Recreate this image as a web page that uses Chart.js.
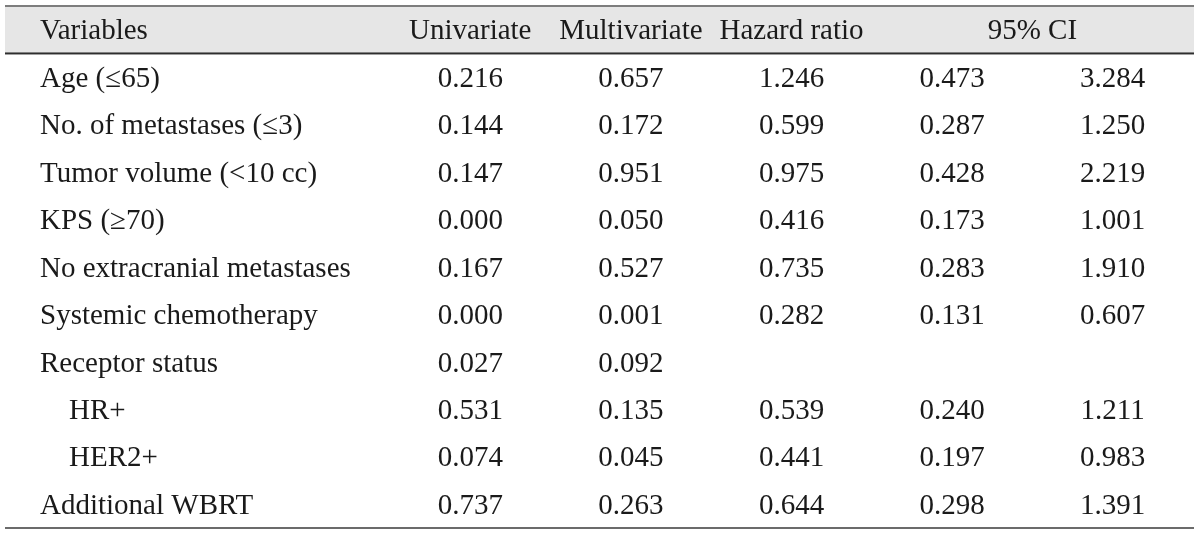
<!DOCTYPE html>
<html>
<head>
<meta charset="utf-8">
<script src="https://cdn.jsdelivr.net/npm/chart.js@4/dist/chart.umd.min.js"></script>
<style>
    html, body { margin: 0; padding: 0; background: #ffffff; }
    #wrap { width: 1200px; height: 535px; position: relative; }
</style>
</head>
<body>
<div id="wrap"><canvas id="coxTable"></canvas></div>
<script>
// table content
const headerLabel = "Variables";
const variables = [
    "Age (\u226465)",
    "No. of metastases (\u22643)",
    "Tumor volume (<10 cc)",
    "KPS (\u226570)",
    "No extracranial metastases",
    "Systemic chemotherapy",
    "Receptor status",
    "\u2003HR+",
    "\u2003HER2+",
    "Additional WBRT",
];
const columns = ["Univariate", "Multivariate", "Hazard ratio", "CI lower", "CI upper"];
const columnHeaders = ["Univariate", "Multivariate", "Hazard ratio"];
const ciHeader = "95% CI";

const univariate   = [0.216, 0.144, 0.147, 0.000, 0.167, 0.000, 0.027, 0.531, 0.074, 0.737];
const multivariate = [0.657, 0.172, 0.951, 0.050, 0.527, 0.001, 0.092, 0.135, 0.045, 0.263];
const hazardRatio  = [1.246, 0.599, 0.975, 0.416, 0.735, 0.282, null, 0.539, 0.441, 0.644];
const ciLower      = [0.473, 0.287, 0.428, 0.173, 0.283, 0.131, null, 0.240, 0.197, 0.298];
const ciUpper      = [3.284, 1.250, 2.219, 1.001, 1.910, 0.607, null, 1.211, 0.983, 1.391];

const seriesValues = [univariate, multivariate, hazardRatio, ciLower, ciUpper];

const FONT = { family: "'Liberation Serif', 'DejaVu Serif', serif", size: 29 };
const TEXT_COLOR = "#1a1a1a";
const EDGE = 5;
// text sits a little below the middle of each band in the original
const TEXT_DROP = 2;

const datasets = columns.map((col, c) => ({
    label: col,
    data: variables.map((v, r) => ({ x: col, y: v, value: seriesValues[c][r] })),
    pointRadius: 0,
}));

const tablePlugin = {
    id: "tablePlugin",
    beforeDraw(chart) {
        const ctx = chart.ctx;
        const area = chart.chartArea;
        const y = chart.scales.y;
        const rowHeight = y.getPixelForValue(variables[0]) - y.getPixelForValue(headerLabel);
        const left = EDGE;
        const right = chart.width - EDGE - 1;
        const top = area.top - TEXT_DROP;
        const bottom = area.bottom - TEXT_DROP;
        ctx.save();
        ctx.fillStyle = "#e6e6e6";
        ctx.fillRect(left, top, right - left, rowHeight);
        ctx.fillStyle = "#7d7d7d";
        ctx.fillRect(left, top - 1, right - left, 2);
        ctx.fillStyle = "#2e2e2e";
        ctx.fillRect(left, top + rowHeight - 1, right - left, 2);
        ctx.fillStyle = "#6b6b6b";
        ctx.fillRect(left, bottom - 1, right - left, 2);
        ctx.restore();
    },
    afterDatasetsDraw(chart) {
        const ctx = chart.ctx;
        const x = chart.scales.x;
        const y = chart.scales.y;
        ctx.save();
        ctx.font = FONT.size + "px " + FONT.family;
        ctx.fillStyle = TEXT_COLOR;
        ctx.textAlign = "center";
        ctx.textBaseline = "middle";

        // column headers
        const headY = y.getPixelForValue(headerLabel);
        columnHeaders.forEach((h) => {
            ctx.fillText(h, x.getPixelForValue(h), headY);
        });
        const ciX = (x.getPixelForValue(columns[3]) + x.getPixelForValue(columns[4])) / 2;
        ctx.fillText(ciHeader, ciX, headY);

        // cell values
        chart.data.datasets.forEach((ds, i) => {
            const meta = chart.getDatasetMeta(i);
            meta.data.forEach((pt, j) => {
                const v = ds.data[j].value;
                if (v === null) return;
                ctx.fillText(v.toFixed(3), pt.x, pt.y);
            });
        });
        ctx.restore();
    },
};

const config = {
    type: "scatter",
    data: { datasets: datasets },
    options: {
        responsive: true,
        maintainAspectRatio: false,
        animation: false,
        events: [],
        layout: { padding: { top: 6 + TEXT_DROP, bottom: 7 - TEXT_DROP, left: 40, right: 7 } },
        plugins: {
            legend: { display: false },
            tooltip: { enabled: false },
        },
        scales: {
            x: {
                type: "category",
                labels: columns,
                offset: true,
                display: false,
            },
            y: {
                type: "category",
                labels: [headerLabel].concat(variables),
                offset: true,
                grid: { display: false },
                border: { display: false },
                ticks: {
                    autoSkip: false,
                    crossAlign: "far",
                    padding: 0,
                    color: TEXT_COLOR,
                    font: FONT,
                },
                afterFit(axis) {
                    axis.width = 350;
                    axis.paddingTop = 0;
                    axis.paddingBottom = 0;
                },
            },
        },
    },
    plugins: [tablePlugin],
};

const coxTable = new Chart(document.getElementById("coxTable"), config);
</script>
</body>
</html>
